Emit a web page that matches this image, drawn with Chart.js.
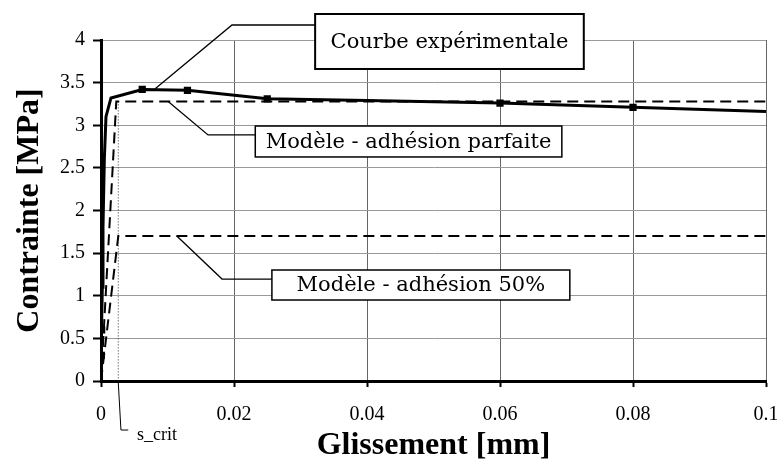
<!DOCTYPE html>
<html><head><meta charset="utf-8">
<script src="https://cdn.jsdelivr.net/npm/chart.js@4/dist/chart.umd.min.js"></script>
<style>html,body{margin:0;padding:0;background:#fff;}canvas{display:block;}</style>
</head><body>
<canvas id="c" width="777" height="459"></canvas>
<script>
// ---- data ----
const expX = [0, 0.00005, 0.0001, 0.0002, 0.0003, 0.0005, 0.00075, 0.0015, 0.0062, 0.013, 0.025, 0.04, 0.06, 0.08, 0.1];
const expY = [0, 0.3, 0.6, 1.1, 1.8, 2.6, 3.1, 3.32, 3.42, 3.41, 3.31, 3.29, 3.26, 3.21, 3.16];
const expMarkers = [0, 1, 1, 0, 0, 0, 0, 0, 1, 1, 1, 0, 1, 1, 0];
const perfX = [0, 0.0023, 0.1];
const perfY = [0, 3.28, 3.28];
const halfX = [0, 0.0026, 0.1];
const halfY = [0, 1.7, 1.7];
const scritX = [0.0026, 0.0026];
const scritY = [3.28, 0];
const xTicks = [0, 0.02, 0.04, 0.06, 0.08, 0.1];
const xTickLabels = ['0', '0.02', '0.04', '0.06', '0.08', '0.1'];
const yTicks = [0, 0.5, 1, 1.5, 2, 2.5, 3, 3.5, 4];
const yTickLabels = ['0', '0.5', '1', '1.5', '2', '2.5', '3', '3.5', '4'];
const seriesNames = ['Courbe expérimentale', 'Modèle - adhésion parfaite', 'Modèle - adhésion 50%'];
const xTitle = 'Glissement [mm]';
const yTitle = 'Contrainte [MPa]';
const scritLabel = 's_crit';

const pts = (xs, ys) => xs.map((x, i) => ({x: x, y: ys[i]}));

// annotation layout (data coordinates)
const notes = [
  {text: seriesNames[0], box: [0.0322, 4.305, 0.0726, 3.66], lw: 2,
   path: [[0.0322, 4.176], [0.0197, 4.176], [0.0081, 3.425]]},
  {text: seriesNames[1], box: [0.0232, 2.991, 0.0693, 2.628], lw: 1.5,
   path: [[0.0232, 2.886], [0.0161, 2.886], [0.0101, 3.28]]},
  {text: seriesNames[2], box: [0.0257, 1.302, 0.0705, 0.950], lw: 1.5,
   path: [[0.0257, 1.196], [0.0182, 1.196], [0.0114, 1.7]]}
];
const scritPath = [[0.0026, -0.02], [0.003, -0.575], [0.0041, -0.575]];
const scritPos = [0.0054, -0.64];

const whiteBg = {
  id: 'whiteBg',
  beforeDraw(chart) {
    const c = chart.ctx; c.save(); c.fillStyle = '#fff';
    c.fillRect(0, 0, chart.width, chart.height); c.restore();
  }
};

const annot = {
  id: 'annot',
  afterDraw(chart) {
    const c = chart.ctx, xs = chart.scales.x, ys = chart.scales.y;
    const P = (p) => [xs.getPixelForValue(p[0]), ys.getPixelForValue(p[1])];
    c.save();
    notes.forEach(n => {
      c.strokeStyle = '#000'; c.lineWidth = 1.3;
      c.beginPath();
      n.path.forEach((p, i) => { const q = P(p); i ? c.lineTo(q[0], q[1]) : c.moveTo(q[0], q[1]); });
      c.stroke();
      const a = P([n.box[0], n.box[1]]), b = P([n.box[2], n.box[3]]);
      c.fillStyle = '#fff';
      c.fillRect(a[0], a[1], b[0] - a[0], b[1] - a[1]);
      c.lineWidth = n.lw;
      c.strokeRect(a[0], a[1], b[0] - a[0], b[1] - a[1]);
      c.fillStyle = '#000';
      c.font = '21px "DejaVu Serif"';
      c.textAlign = 'center'; c.textBaseline = 'middle';
      c.fillText(n.text, (a[0] + b[0]) / 2, (a[1] + b[1]) / 2 + 1);
    });
    c.lineWidth = 1; c.strokeStyle = '#000';
    c.beginPath();
    scritPath.forEach((p, i) => { const q = P(p); i ? c.lineTo(q[0], q[1]) : c.moveTo(q[0], q[1]); });
    c.stroke();
    const s = P(scritPos);
    c.font = '18px "Liberation Serif"'; c.textAlign = 'left'; c.textBaseline = 'middle';
    c.fillText(scritLabel, s[0], s[1]);
    c.restore();
  }
};

new Chart(document.getElementById('c'), {
  type: 'scatter',
  data: {
    datasets: [
      {label: seriesNames[0], data: pts(expX, expY), showLine: true, borderColor: '#000', backgroundColor: '#000',
       borderWidth: 3, pointStyle: 'rect', pointRadius: expMarkers.map(m => m ? 3 : 0), order: 1},
      {label: seriesNames[1], data: pts(perfX, perfY), showLine: true, borderColor: '#000', borderWidth: 2,
       borderDash: [11, 6], pointRadius: 0, order: 2},
      {label: seriesNames[2], data: pts(halfX, halfY), showLine: true, borderColor: '#000', borderWidth: 2,
       borderDash: [11, 6], pointRadius: 0, order: 3},
      {label: scritLabel, data: pts(scritX, scritY), showLine: true, borderColor: '#333', borderWidth: 1,
       borderDash: [1, 2], pointRadius: 0, order: 4}
    ]
  },
  options: {
    responsive: false, animation: false, devicePixelRatio: 1,
    layout: {padding: {top: 40, right: 11, left: 0, bottom: 0}},
    plugins: {legend: {display: false}, tooltip: {enabled: false}},
    scales: {
      x: {
        type: 'linear', min: 0, max: 0.1,
        afterBuildTicks: s => { s.ticks = xTicks.map(v => ({value: v})); },
        afterFit: s => { s.height = 78; s.paddingLeft = 0; s.paddingRight = 0; },
        ticks: {callback: (v, i) => xTickLabels[i], color: '#000', padding: 16, maxRotation: 0,
                font: {family: 'Liberation Serif', size: 20}},
        grid: {color: '#666', lineWidth: 1, tickLength: 6, tickColor: '#000', tickWidth: 2},
        border: {display: true, color: '#000', width: 3},
        title: {display: true, text: xTitle, color: '#000', padding: {top: 0, bottom: 0},
                font: {family: 'Liberation Serif', size: 32, weight: 'bold', lineHeight: 0.8}}
      },
      y: {
        type: 'linear', min: 0, max: 4,
        afterBuildTicks: s => { s.ticks = yTicks.map(v => ({value: v})); },
        afterFit: s => { s.width = 101; s.paddingTop = 0; s.paddingBottom = 0; },
        ticks: {callback: (v, i) => yTickLabels[i], color: '#000', padding: 8,
                font: {family: 'Liberation Serif', size: 20}},
        grid: {color: '#999', lineWidth: 1, tickLength: 8, tickColor: '#000', tickWidth: 2},
        border: {display: true, color: '#000', width: 3},
        title: {display: true, text: yTitle, color: '#000', padding: {top: 14, bottom: 0},
                font: {family: 'Liberation Serif', size: 32, weight: 'bold', lineHeight: 1}}
      }
    }
  },
  plugins: [whiteBg, annot]
});
</script>
</body></html>
